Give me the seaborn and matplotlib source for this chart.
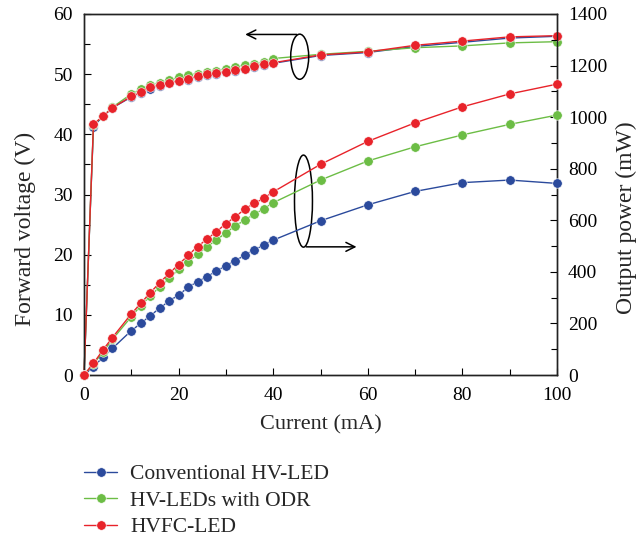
import numpy as np
import pandas as pd
import matplotlib
matplotlib.use("Agg")
import matplotlib.pyplot as plt
import seaborn as sns
from matplotlib.patches import Ellipse
from matplotlib.lines import Line2D

# Data
current = [0, 2, 4, 6, 10, 12, 14, 16, 18, 20, 22, 24, 26, 28, 30, 32, 34, 36, 38, 40,
           50, 60, 70, 80, 90, 100]

volt_conv = [0, 41.3, 43.0, 44.4, 46.2, 46.9, 47.6, 48.1, 48.5, 48.8, 49.1, 49.6, 49.9, 50.1,
             50.3, 50.6, 50.8, 51.2, 51.6, 51.8, 53.1, 53.6, 54.6, 55.3, 56.0, 56.3]
volt_odr = [0, 41.6, 43.0, 44.5, 46.7, 47.5, 48.2, 48.6, 49.0, 49.5, 49.9, 50.1, 50.3, 50.6,
            50.9, 51.2, 51.5, 51.7, 52.0, 52.6, 53.3, 53.8, 54.4, 54.7, 55.2, 55.4]
volt_hvfc = [0, 41.7, 43.0, 44.4, 46.3, 47.0, 47.8, 48.2, 48.6, 48.9, 49.2, 49.7, 50.0, 50.2,
             50.4, 50.7, 50.9, 51.3, 51.7, 51.9, 53.2, 53.7, 54.8, 55.5, 56.2, 56.4]

power_conv = [0, 32, 69, 103, 172, 200, 230, 259, 287, 310, 340, 362, 381, 403, 424, 443,
              465, 485, 504, 523, 598, 660, 712, 746, 756, 743]
power_odr = [0, 43, 89, 138, 226, 269, 306, 342, 375, 410, 439, 468, 498, 523, 552, 578,
             601, 623, 645, 668, 756, 830, 885, 931, 972, 1008]
power_hvfc = [0, 45, 97, 145, 237, 278, 319, 358, 394, 428, 464, 498, 527, 556, 587, 614,
              643, 666, 685, 710, 817, 906, 978, 1040, 1090, 1128]

names = ["Conventional HV-LED", "HV-LEDs with ODR", "HVFC-LED"]
colors = ["#2b4a9c", "#6cbd45", "#e8232a"]

volt_df = pd.DataFrame({
    "current": current * 3,
    "value": volt_conv + volt_odr + volt_hvfc,
    "device": sum([[n] * len(current) for n in names], []),
})
power_df = pd.DataFrame({
    "current": current * 3,
    "value": power_conv + power_odr + power_hvfc,
    "device": sum([[n] * len(current) for n in names], []),
})

sns.set_style("ticks")
plt.rcParams["font.family"] = ["Liberation Serif", "DejaVu Serif"]
plt.rcParams["font.size"] = 12

fig = plt.figure(figsize=(6.39, 5.39), dpi=100)
ax = fig.add_axes([84 / 639, 1 - 375 / 539, 473 / 639, 361 / 539])
ax2 = ax.twinx()

line_kw = dict(marker="o", markersize=6.8, linewidth=1.0, markeredgecolor="white",
               markeredgewidth=0.4)
sns.lineplot(data=volt_df, x="current", y="value", hue="device", palette=colors,
             hue_order=names, ax=ax, legend=False, **line_kw)
sns.lineplot(data=power_df, x="current", y="value", hue="device", palette=colors,
             hue_order=names, ax=ax2, legend=False, **line_kw)

for a in (ax, ax2):
    for ln in a.lines:
        ln.set_clip_on(False)
        ln.set_zorder(3)

ax.set_xlim(0, 100)
ax.set_ylim(0, 60)
ax2.set_ylim(0, 1400)
ax.set_xticks(range(0, 101, 20))
ax.set_xticks(range(0, 101, 10), minor=True)
ax.set_yticks(range(0, 61, 10))
ax.set_yticks(range(0, 61, 5), minor=True)
ax2.set_yticks(range(0, 1401, 200))
ax2.set_yticks(range(0, 1401, 100), minor=True)

for a in (ax, ax2):
    a.tick_params(which="both", direction="in", width=0.8, colors="black", labelsize=14)
    a.tick_params(which="major", length=5)
    a.tick_params(which="minor", length=4)
    for s in a.spines.values():
        s.set_linewidth(1.0)
        s.set_color("#222222")
ax.tick_params(axis="x", which="both", top=False, pad=9)
ax.tick_params(axis="y", pad=8)
ax2.tick_params(axis="y", pad=8)

ax.set_xlabel("Current (mA)", fontsize=16)
ax.set_ylabel("Forward voltage (V)", fontsize=17)
ax2.set_ylabel("Output power (mW)", fontsize=17, rotation=90)
ax.xaxis.set_label_coords(0.5, (375 - 425) / 361)
ax.yaxis.set_label_coords((25 - 84) / 473, (375 - 229) / 361)
ax2.yaxis.set_label_coords((626 - 84) / 473, (375 - 218) / 361)
ax.xaxis.label.set_va("center")
ax.yaxis.label.set_va("center")
ax2.yaxis.label.set_va("center")

# ellipse + arrow annotations
ax.add_patch(Ellipse((45.6, 52.9), 3.8, 7.5, fill=False, edgecolor="black", lw=1.1, zorder=5))
ax.annotate("", xy=(33.5, 56.6), xytext=(45.6, 56.6),
            arrowprops=dict(arrowstyle="->", lw=1.1, color="black", mutation_scale=16))
ax.add_patch(Ellipse((46.4, 28.9), 3.8, 15.3, fill=False, edgecolor="black", lw=1.1, zorder=5))
ax.annotate("", xy=(58.2, 21.3), xytext=(46.4, 21.3),
            arrowprops=dict(arrowstyle="->", lw=1.1, color="black", mutation_scale=16))

handles = [Line2D([], [], color=c, marker="o", markersize=6.8, linewidth=1.0,
                  markeredgecolor="white", markeredgewidth=0.4) for c in colors]
fig.legend(handles, names, loc="upper left", bbox_to_anchor=(84 / 639, 1 - 464 / 539),
           frameon=False, fontsize=15.5, borderpad=0, borderaxespad=0,
           handlelength=1.55, handletextpad=0.6, labelspacing=0.3)

fig.savefig("out.png", dpi=100)
